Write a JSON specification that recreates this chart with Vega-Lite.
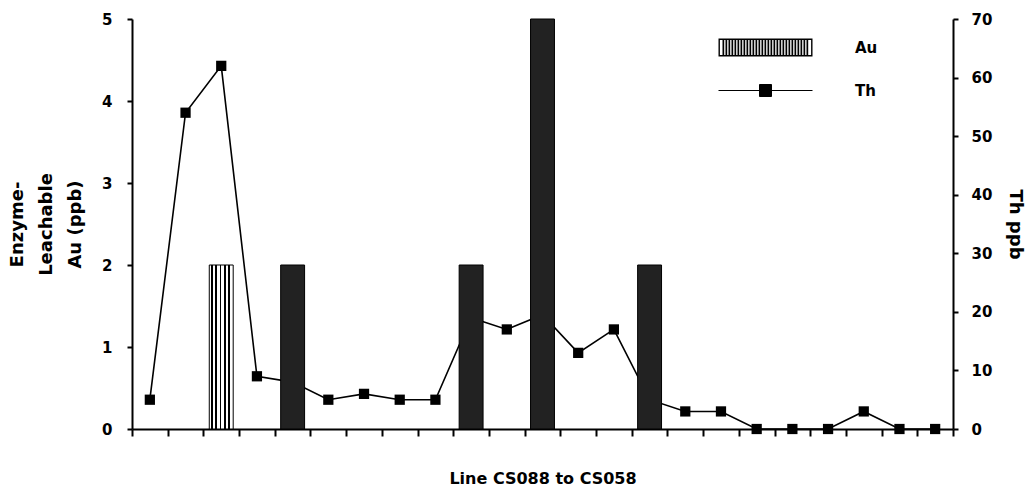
{
  "$schema": "https://vega.github.io/schema/vega-lite/v6.json",
  "width": 821,
  "height": 410,
  "autosize": "none",
  "padding": {"left": 132, "top": 19, "right": 78, "bottom": 59},
  "background": "white",
  "config": {
    "view": {"stroke": null},
    "font": "DejaVu Sans",
    "axis": {
      "domainColor": "black",
      "domainWidth": 2,
      "tickColor": "black",
      "tickWidth": 2,
      "grid": false,
      "labelFont": "DejaVu Sans",
      "labelFontWeight": "bold",
      "labelFontSize": 15,
      "labelColor": "black",
      "titleFont": "DejaVu Sans",
      "titleFontWeight": "bold",
      "titleColor": "black"
    }
  },
  "datasets": {
    "thorium": [
      {"sample": "P01", "th": 5},
      {"sample": "P02", "th": 54},
      {"sample": "P03", "th": 62},
      {"sample": "P04", "th": 9},
      {"sample": "P05", "th": 8},
      {"sample": "P06", "th": 5},
      {"sample": "P07", "th": 6},
      {"sample": "P08", "th": 5},
      {"sample": "P09", "th": 5},
      {"sample": "P10", "th": 19},
      {"sample": "P11", "th": 17},
      {"sample": "P12", "th": 19.5},
      {"sample": "P13", "th": 13},
      {"sample": "P14", "th": 17},
      {"sample": "P15", "th": 5},
      {"sample": "P16", "th": 3},
      {"sample": "P17", "th": 3},
      {"sample": "P18", "th": 0},
      {"sample": "P19", "th": 0},
      {"sample": "P20", "th": 0},
      {"sample": "P21", "th": 3},
      {"sample": "P22", "th": 0},
      {"sample": "P23", "th": 0}
    ],
    "gold": [
      {"sample": "P03", "au": 2},
      {"sample": "P05", "au": 2},
      {"sample": "P10", "au": 2},
      {"sample": "P12", "au": 5},
      {"sample": "P15", "au": 2}
    ]
  },
  "encoding": {
    "x": {
      "field": "sample",
      "type": "nominal",
      "scale": {
        "domain": ["P01","P02","P03","P04","P05","P06","P07","P08","P09","P10","P11","P12","P13","P14","P15","P16","P17","P18","P19","P20","P21","P22","P23"],
        "paddingInner": 0,
        "paddingOuter": 0
      },
      "axis": {
        "title": "Line CS088 to CS058",
        "titleFontSize": 16,
        "titlePadding": 33,
        "labels": false,
        "tickBand": "extent",
        "tickSize": 7,
        "encode": {"ticks": {"y": {"value": -6}}}
      }
    }
  },
  "layer": [
    {
      "data": {"name": "thorium"},
      "mark": {
        "type": "line",
        "strokeWidth": 1.6,
        "point": {"shape": "square", "size": 105, "filled": true, "opacity": 1}
      },
      "encoding": {
        "y": {
          "field": "th",
          "type": "quantitative",
          "scale": {"domain": [0, 70], "nice": false},
          "axis": {
            "orient": "right",
            "title": "Th ppb",
            "titleFontSize": 18,
            "titleAngle": 90,
            "titlePadding": 14,
            "values": [0, 10, 20, 30, 40, 50, 60, 70],
            "tickSize": 5,
            "labelPadding": 13,
            "encode": {"ticks": {"x": {"value": -5}}}
          }
        },
        "color": {
          "datum": "Th",
          "type": "nominal",
          "scale": {"domain": ["Au", "Th"], "range": ["black", "black"]},
          "legend": {
            "orient": "none",
            "legendX": 626,
            "legendY": 21,
            "title": null,
            "padding": 0,
            "symbolSize": 400,
            "labelFont": "DejaVu Sans",
            "labelFontWeight": "bold",
            "labelFontSize": 15,
            "labelColor": "black",
            "labelOffset": 82,
            "rowPadding": 25,
            "encode": {
              "symbols": {
                "update": {
                  "shape": {"signal": "datum.value === 'Au' ? 'M-4.7,-0.9H4.7V-0.76H-4.7ZM-4.7,0.76H4.7V0.9H-4.7ZM-4.7,-0.9H-4.56V0.9H-4.7ZM4.56,-0.9H4.7V0.9H4.56ZM-4.3,-0.9h0.17V0.9h-0.17ZM-4,-0.9h0.17V0.9h-0.17ZM-3.7,-0.9h0.17V0.9h-0.17ZM-3.4,-0.9h0.17V0.9h-0.17ZM-3.1,-0.9h0.17V0.9h-0.17ZM-2.8,-0.9h0.17V0.9h-0.17ZM-2.5,-0.9h0.17V0.9h-0.17ZM-2.2,-0.9h0.17V0.9h-0.17ZM-1.9,-0.9h0.17V0.9h-0.17ZM-1.6,-0.9h0.17V0.9h-0.17ZM-1.3,-0.9h0.17V0.9h-0.17ZM-1,-0.9h0.17V0.9h-0.17ZM-0.7,-0.9h0.17V0.9h-0.17ZM-0.4,-0.9h0.17V0.9h-0.17ZM-0.1,-0.9h0.17V0.9h-0.17ZM0.2,-0.9h0.17V0.9h-0.17ZM0.5,-0.9h0.17V0.9h-0.17ZM0.8,-0.9h0.17V0.9h-0.17ZM1.1,-0.9h0.17V0.9h-0.17ZM1.4,-0.9h0.17V0.9h-0.17ZM1.7,-0.9h0.17V0.9h-0.17ZM2,-0.9h0.17V0.9h-0.17ZM2.3,-0.9h0.17V0.9h-0.17ZM2.6,-0.9h0.17V0.9h-0.17ZM2.9,-0.9h0.17V0.9h-0.17ZM3.2,-0.9h0.17V0.9h-0.17ZM3.5,-0.9h0.17V0.9h-0.17ZM3.8,-0.9h0.17V0.9h-0.17ZM4.1,-0.9h0.17V0.9h-0.17Z' : 'M-4.7,0H4.7M-0.6,-0.6H0.6V0.6H-0.6Z'"},
                  "strokeWidth": {"signal": "datum.value === 'Au' ? 0 : 1"}
                }
              }
            }
          }
        }
      }
    },
    {
      "data": {"name": "gold"},
      "mark": {"type": "bar", "width": {"band": 0.67}, "stroke": "black", "strokeWidth": 1},
      "encoding": {
        "y": {
          "field": "au",
          "type": "quantitative",
          "scale": {"domain": [0, 5], "nice": false},
          "axis": {
            "orient": "left",
            "title": ["Enzyme-", "Leachable", "Au (ppb)"],
            "titleFontSize": 18,
            "titleLineHeight": 29,
            "titlePadding": 17,
            "values": [0, 1, 2, 3, 4, 5],
            "tickSize": 5,
            "labelPadding": 15,
            "encode": {"ticks": {"x": {"value": 5}}}
          }
        },
        "color": {"datum": "Au", "type": "nominal"},
        "fill": {
          "condition": {
            "test": "datum.sample === 'P03'",
            "value": {
              "gradient": "linear",
              "x1": 0, "y1": 0, "x2": 1, "y2": 0,
              "stops": [
                {"offset": 0, "color": "white"},
                {"offset": 0.08, "color": "white"},
                {"offset": 0.08, "color": "black"},
                {"offset": 0.15, "color": "black"},
                {"offset": 0.15, "color": "white"},
                {"offset": 0.26, "color": "white"},
                {"offset": 0.26, "color": "black"},
                {"offset": 0.33, "color": "black"},
                {"offset": 0.33, "color": "white"},
                {"offset": 0.44, "color": "white"},
                {"offset": 0.44, "color": "black"},
                {"offset": 0.51, "color": "black"},
                {"offset": 0.51, "color": "white"},
                {"offset": 0.62, "color": "white"},
                {"offset": 0.62, "color": "black"},
                {"offset": 0.69, "color": "black"},
                {"offset": 0.69, "color": "white"},
                {"offset": 0.8, "color": "white"},
                {"offset": 0.8, "color": "black"},
                {"offset": 0.87, "color": "black"},
                {"offset": 0.87, "color": "white"},
                {"offset": 1, "color": "white"}
              ]
            }
          },
          "value": "#222222"
        }
      }
    }
  ],
  "resolve": {"scale": {"y": "independent"}}
}
